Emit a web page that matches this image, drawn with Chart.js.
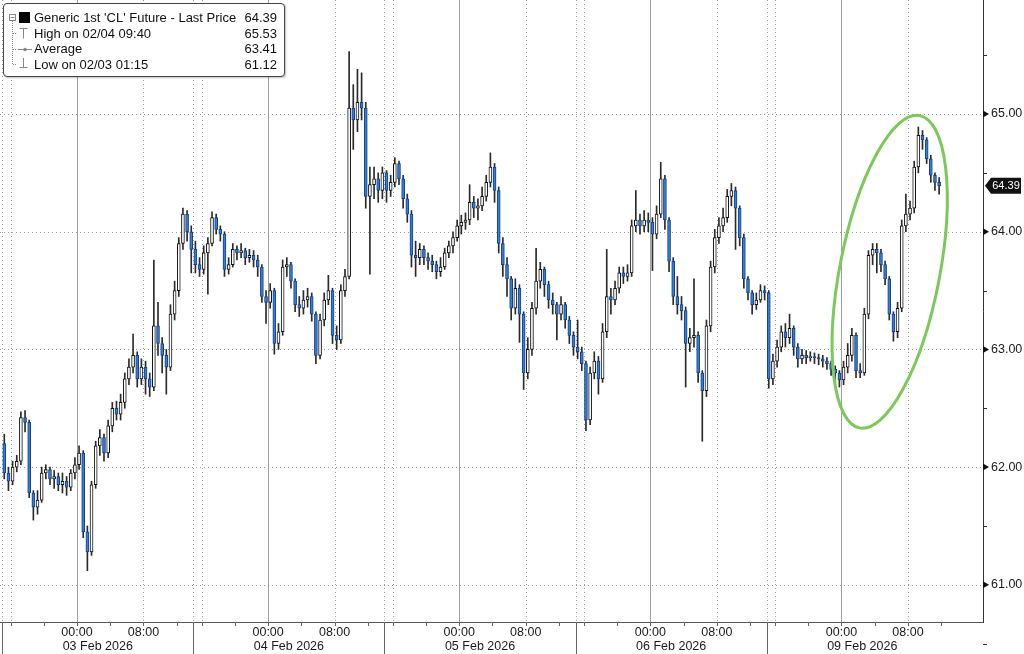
<!DOCTYPE html>
<html>
<head>
<meta charset="utf-8">
<script src="https://cdn.jsdelivr.net/npm/chart.js@4.4.1/dist/chart.umd.min.js"></script>
<style>
html, body { margin: 0; padding: 0; background: #fff; }
#wrap { position: relative; width: 1024px; height: 654px; overflow: hidden; }
#legend {
  position: absolute; left: 3px; top: 3px; width: 282px; height: 74px; box-sizing: border-box;
  border: 1px solid #444; border-radius: 4px; background: #fff;
  font: 13px "Liberation Sans", Arial, sans-serif; color: #111;
  box-shadow: 1px 1px 2px rgba(0,0,0,.25);
}
#legend svg { position: absolute; left: -4px; top: -4px; }
.row { position: absolute; left: 0; right: 0; height: 16px; line-height: 16px; white-space: nowrap; }
.lbl { position: absolute; left: 30px; }
.val { position: absolute; right: 7px; }
</style>
</head>
<body>
<div id="wrap">
  <canvas id="chart" width="1024" height="654"></canvas>
  <div id="legend">
    <svg width="290" height="80">
      <g stroke="#888" fill="none" stroke-width="1">
        <rect x="9.5" y="14.5" width="6" height="6" fill="#fff"/>
        <line x1="10.5" y1="17.5" x2="14.5" y2="17.5"/>
        <line x1="12.5" y1="21" x2="12.5" y2="64.5" stroke-dasharray="1,1"/>
        <line x1="13" y1="33.5" x2="17" y2="33.5" stroke-dasharray="1,1"/>
        <line x1="13" y1="49.5" x2="17" y2="49.5" stroke-dasharray="1,1"/>
        <line x1="13" y1="64.5" x2="17" y2="64.5" stroke-dasharray="1,1"/>
        <line x1="19.5" y1="28.5" x2="27.5" y2="28.5"/>
        <line x1="23.5" y1="28.5" x2="23.5" y2="38.5"/>
        <line x1="18" y1="49.5" x2="32" y2="49.5"/>
        <line x1="23.5" y1="58" x2="23.5" y2="67.5"/>
        <line x1="19.5" y1="67.5" x2="27.5" y2="67.5"/>
      </g>
      <rect x="19" y="12" width="11" height="11" fill="#000"/>
      <circle cx="25" cy="49.5" r="1.8" fill="#888"/>
    </svg>
    <div class="row" style="top:6px"><span class="lbl" id="l0"></span><span class="val" id="v0"></span></div>
    <div class="row" style="top:22px"><span class="lbl" id="l1"></span><span class="val" id="v1"></span></div>
    <div class="row" style="top:37px"><span class="lbl" id="l2"></span><span class="val" id="v2"></span></div>
    <div class="row" style="top:53px"><span class="lbl" id="l3"></span><span class="val" id="v3"></span></div>
  </div>
</div>
<script>
// --- data: 30 minute candles, close / high / low per session ---
const sessionDates = ['03 Feb 2026', '04 Feb 2026', '05 Feb 2026', '06 Feb 2026', '09 Feb 2026'];
const timeTicks = [9, 17];            // hours after the session open (15:00)
const timeLabels = ['00:00', '08:00'];
const yTicks = [61, 62, 63, 64, 65];
const yMinor = [60.5, 61.5, 62.5, 63.5, 64.5, 65.5];

const legendLabels = ["Generic 1st 'CL' Future - Last Price", 'High on 02/04 09:40', 'Average', 'Low on 02/03 01:15'];
const legendValues = ['64.39', '65.53', '63.41', '61.12'];

const firstOpen = 62.20;

const close03 = [61.95,61.88,62.00,62.05,62.42,62.38,61.78,61.66,61.72,61.95,61.98,61.90,61.92,61.85,61.88,61.83,61.95,62.02,62.12,61.45,61.28,61.85,62.18,62.25,62.12,62.35,62.50,62.45,62.55,62.75,62.85,62.95,62.75,62.85,62.75,62.68,63.20,63.05,62.95,62.85,63.30,63.50,63.90,64.15,64.00,63.85];
const high03  = [62.28,62.00,62.05,62.10,62.47,62.48,62.40,61.80,61.80,62.00,62.02,62.00,61.97,61.95,61.95,61.92,61.98,62.08,62.18,62.14,61.50,61.88,62.22,62.32,62.28,62.40,62.55,62.56,62.62,62.80,62.92,63.13,62.98,62.92,62.90,62.80,63.76,63.40,63.10,63.00,63.38,63.58,63.95,64.20,64.18,64.05];
const low03   = [61.90,61.80,61.85,61.96,62.02,62.30,61.74,61.55,61.60,61.70,61.90,61.85,61.82,61.80,61.78,61.76,61.80,61.90,61.98,61.40,61.12,61.25,61.82,62.10,62.05,62.08,62.30,62.40,62.40,62.50,62.70,62.80,62.68,62.70,62.62,62.60,62.65,62.95,62.80,62.62,62.82,63.25,63.45,63.85,63.92,63.65];

const close04 = [63.72,63.68,63.82,63.90,64.12,64.02,63.98,63.68,63.72,63.85,63.82,63.84,63.78,63.80,63.76,63.70,63.45,63.40,63.50,63.05,63.15,63.70,63.72,63.58,63.38,63.35,63.42,63.45,63.30,62.95,63.25,63.42,63.50,63.12,63.08,63.50,63.62,65.05,64.95,65.10,65.05,64.30,64.40,64.45,64.35,64.50];
const high04  = [63.92,63.78,63.88,63.95,64.17,64.15,64.05,64.00,63.78,63.90,63.88,63.90,63.86,63.85,63.84,63.80,63.72,63.50,63.56,63.52,63.22,63.76,63.78,63.74,63.60,63.45,63.50,63.52,63.48,63.32,63.30,63.48,63.63,63.52,63.20,63.55,63.68,65.53,65.25,65.38,65.35,65.10,64.55,64.55,64.50,64.55];
const low04   = [63.65,63.62,63.64,63.47,63.88,63.98,63.92,63.62,63.64,63.70,63.76,63.78,63.72,63.74,63.70,63.62,63.40,63.22,63.35,62.96,63.00,63.12,63.62,63.52,63.32,63.28,63.30,63.36,63.24,62.88,62.92,63.20,63.38,63.05,63.00,63.05,63.45,63.60,64.70,64.85,64.95,64.20,63.64,64.28,64.25,64.28];

const close05 = [64.35,64.42,64.58,64.45,64.28,64.15,63.80,63.78,63.85,63.78,63.75,63.72,63.66,63.70,63.82,63.88,63.95,64.05,64.08,64.10,64.25,64.20,64.22,64.30,64.42,64.55,64.35,63.90,63.72,63.60,63.35,63.52,63.30,62.80,63.00,63.35,63.58,63.68,63.55,63.42,63.38,63.30,63.38,63.25,63.12,63.02];
const high05  = [64.52,64.48,64.63,64.60,64.48,64.32,64.18,63.92,63.90,63.88,63.82,63.80,63.75,63.78,63.86,63.92,64.00,64.10,64.14,64.16,64.40,64.30,64.28,64.38,64.48,64.67,64.58,64.38,63.95,63.78,63.62,63.60,63.55,63.32,63.10,63.40,63.86,63.74,63.70,63.58,63.48,63.40,63.45,63.40,63.28,63.15];
const low05   = [64.25,64.30,64.38,64.40,64.20,64.08,63.70,63.62,63.72,63.72,63.68,63.66,63.60,63.62,63.68,63.78,63.82,63.92,63.98,64.02,64.06,64.12,64.10,64.18,64.26,64.38,64.25,63.82,63.62,63.45,63.25,63.30,63.06,62.66,62.75,62.95,63.30,63.52,63.45,63.35,63.30,63.08,63.25,63.18,63.05,62.95];

const close06 = [62.98,62.88,62.40,62.80,62.90,62.75,63.15,63.45,63.42,63.52,63.65,63.62,63.65,64.05,64.10,64.05,64.10,64.08,63.98,64.15,64.45,64.10,63.75,63.45,63.38,63.33,63.05,63.10,63.12,62.80,62.65,63.20,63.70,63.95,64.05,64.12,64.30,64.35,64.20,63.95,63.60,63.48,63.38,63.42,63.50,63.48];
const high06  = [63.25,63.02,62.90,62.85,62.98,62.94,63.22,63.85,63.52,63.58,63.70,63.70,63.72,64.10,64.35,64.15,64.18,64.16,64.12,64.22,64.59,64.48,64.12,63.78,63.62,63.45,63.36,63.18,63.60,63.15,62.82,63.25,63.75,64.02,64.12,64.20,64.36,64.41,64.38,64.22,63.98,63.62,63.50,63.48,63.55,63.54];
const low06   = [62.92,62.82,62.31,62.36,62.75,62.62,62.72,63.10,63.30,63.38,63.48,63.56,63.58,63.62,64.00,63.98,64.00,64.00,63.67,63.94,64.12,64.02,63.66,63.38,63.30,63.25,62.68,62.98,63.02,62.72,62.22,62.60,63.15,63.65,63.90,64.00,64.08,64.22,63.85,63.88,63.52,63.42,63.30,63.34,63.40,63.42];

const close09 = [62.75,62.90,63.02,63.15,63.10,63.18,63.02,62.92,62.95,62.93,62.94,62.93,62.92,62.90,62.88,62.83,62.80,62.74,62.85,62.95,63.12,62.82,62.80,63.30,63.80,63.85,63.82,63.72,63.60,63.30,63.15,63.35,64.05,64.15,64.20,64.55,64.82,64.78,64.62,64.48,64.42,64.39];
const high09  = [63.50,62.96,63.08,63.20,63.22,63.30,63.20,63.05,63.00,62.99,62.98,62.97,62.96,62.95,62.93,62.90,62.86,62.82,62.90,63.05,63.18,63.14,62.88,63.35,63.84,63.90,63.90,63.85,63.75,63.62,63.32,63.40,64.10,64.32,64.26,64.60,64.89,64.86,64.80,64.65,64.50,64.46];
const low09   = [62.67,62.70,62.85,62.98,63.02,63.05,62.95,62.85,62.88,62.88,62.90,62.88,62.87,62.85,62.83,62.78,62.72,62.68,62.70,62.80,62.90,62.76,62.76,62.78,63.26,63.72,63.65,63.66,63.55,63.25,63.07,63.10,63.32,64.00,64.10,64.16,64.50,64.70,64.58,64.42,64.35,64.32];

const sessions = [
  { close: close03, high: high03, low: low03 },
  { close: close04, high: high04, low: low04 },
  { close: close05, high: high05, low: low05 },
  { close: close06, high: high06, low: low06 },
  { close: close09, high: high09, low: low09 }
];

const SESSION_H = 23;   // CL trades 23h a session
const BAR_H = 0.5;      // 30 minute candles
const UP_FILL = '#ffffff', UP_LINE = '#111111';
const DN_FILL = '#2f80e0', DN_LINE = '#173f80';
const FONT = '"Liberation Sans", Arial, sans-serif';

// --- build candle tables ---
const bodies = [], wicks = [], fills = [], lines = [];
let prev = firstOpen;
sessions.forEach((s, si) => {
  s.close.forEach((c, i) => {
    const xv = si * SESSION_H + i * BAR_H + BAR_H / 2;
    const o = prev;
    bodies.push({ x: xv, y: [o, c] });
    wicks.push({ x: xv, y: [Math.min(s.low[i], o, c), Math.max(s.high[i], o, c)] });
    fills.push(c >= o ? UP_FILL : DN_FILL);
    lines.push(c >= o ? UP_LINE : DN_LINE);
    prev = c;
  });
});
const lastClose = prev;

legendLabels.forEach((t, i) => {
  document.getElementById('l' + i).textContent = t;
  document.getElementById('v' + i).textContent = legendValues[i];
});

function seg(ctx, x1, y1, x2, y2) {
  ctx.beginPath(); ctx.moveTo(x1, y1); ctx.lineTo(x2, y2); ctx.stroke();
}
const px = v => Math.round(v) + 0.5;

// grid, axis furniture, price tag and the green ring
const frame = {
  id: 'frame',
  beforeDatasetsDraw(chart) {
    const { ctx, chartArea: a, scales: { x, y } } = chart;
    ctx.save();
    ctx.lineWidth = 1;
    ctx.strokeStyle = '#9a9a9a';
    ctx.setLineDash([1, 3]);
    yTicks.forEach(v => { const py = px(y.getPixelForValue(v)); seg(ctx, a.left, py, a.right, py); });
    sessionDates.forEach((d, s) => {
      [0, 1, 17].forEach(h => { const xx = px(x.getPixelForValue(s * SESSION_H + h)); seg(ctx, xx, a.top, xx, a.bottom); });
    });
    ctx.setLineDash([]);
    ctx.strokeStyle = '#a0a0a0';
    sessionDates.forEach((d, s) => { const xx = px(x.getPixelForValue(s * SESSION_H + 9)); seg(ctx, xx, a.top, xx, a.bottom); });
    ctx.restore();
  },
  afterDatasetsDraw(chart) {
    const { ctx, scales: { x, y } } = chart;
    // annotation ring around the 09 Feb rally
    const cx = x.getPixelForValue(106.8), cy = y.getPixelForValue(63.66);
    ctx.save();
    ctx.strokeStyle = '#7cc85a';
    ctx.lineWidth = 3;
    ctx.beginPath();
    ctx.ellipse(cx, cy, 50, 159, 0.19, 0, Math.PI * 2);
    ctx.stroke();
    ctx.restore();
  },
  afterDraw(chart) {
    const { ctx, chartArea: a, scales: { x, y } } = chart;
    ctx.save();
    ctx.lineWidth = 1;
    ctx.strokeStyle = '#555';
    seg(ctx, a.left, px(a.bottom), a.right, px(a.bottom));
    ctx.strokeStyle = '#333';
    seg(ctx, px(a.right), a.top, px(a.right), a.bottom + 1);
    // x minor ticks every 4h and session separators
    ctx.strokeStyle = '#666';
    sessionDates.forEach((d, s) => {
      [1, 5, 9, 13, 17, 21].forEach(h => { const xx = px(x.getPixelForValue(s * SESSION_H + h)); seg(ctx, xx, a.bottom, xx, a.bottom + 4); });
      const xb = px(x.getPixelForValue(s * SESSION_H));
      seg(ctx, xb, a.bottom, xb, chart.height);
    });
    // date labels centred on each session
    ctx.fillStyle = '#1a1a1a';
    ctx.font = '12.5px ' + FONT;
    ctx.textAlign = 'center';
    ctx.textBaseline = 'middle';
    sessionDates.forEach((d, s) => ctx.fillText(d, x.getPixelForValue(s * SESSION_H + SESSION_H / 2), a.bottom + 25));
    // y ticks: arrows at majors, short marks at halves
    ctx.fillStyle = '#111';
    yTicks.forEach(v => {
      const py = y.getPixelForValue(v);
      ctx.beginPath(); ctx.moveTo(a.right, py - 3.5); ctx.lineTo(a.right + 6, py); ctx.lineTo(a.right, py + 3.5); ctx.closePath(); ctx.fill();
    });
    ctx.strokeStyle = '#333';
    yMinor.forEach(v => { const py = px(y.getPixelForValue(v)); seg(ctx, a.right, py, a.right + 4, py); });
    // last price tag
    const ty = y.getPixelForValue(lastClose);
    ctx.fillStyle = '#111';
    ctx.beginPath();
    ctx.moveTo(a.right + 2, ty);
    ctx.lineTo(a.right + 8, ty - 8);
    ctx.lineTo(a.right + 38, ty - 8);
    ctx.lineTo(a.right + 38, ty + 8);
    ctx.lineTo(a.right + 8, ty + 8);
    ctx.closePath();
    ctx.fill();
    ctx.fillStyle = '#fff';
    ctx.font = '11px ' + FONT;
    ctx.textAlign = 'center';
    ctx.fillText(lastClose.toFixed(2), a.right + 23, ty + 0.5);
    ctx.restore();
  }
};

const noPad = s => { s.paddingTop = 0; s.paddingBottom = 0; s.paddingLeft = 0; s.paddingRight = 0; };

new Chart(document.getElementById('chart'), {
  type: 'bar',
  data: {
    datasets: [
      { label: 'body', data: bodies, backgroundColor: fills, borderColor: lines, borderWidth: 1,
        borderSkipped: false, barThickness: 3, grouped: false, order: 0 },
      { label: 'wick', data: wicks, backgroundColor: '#2a2a2a', borderWidth: 0,
        barThickness: 1, grouped: false, order: 1 }
    ]
  },
  options: {
    responsive: false,
    animation: false,
    layout: { padding: 0 },
    plugins: { legend: { display: false }, tooltip: { enabled: false } },
    scales: {
      x: {
        type: 'linear', offset: false, min: -0.265, max: 118.03,
        grid: { display: false, drawTicks: false }, border: { display: false },
        afterBuildTicks: s => {
          const t = [];
          sessionDates.forEach((d, si) => timeTicks.forEach(h => t.push({ value: si * SESSION_H + h })));
          s.ticks = t;
        },
        ticks: {
          autoSkip: false, maxRotation: 0, padding: 3, color: '#1a1a1a',
          font: { family: FONT, size: 12.5 },
          callback: v => timeLabels[timeTicks.indexOf(Math.round(v) % SESSION_H)]
        },
        afterFit: s => { s.height = 32; noPad(s); }
      },
      y: {
        position: 'right', min: 60.684, max: 65.969,
        grid: { display: false, drawTicks: false }, border: { display: false },
        afterBuildTicks: s => { s.ticks = yTicks.map(v => ({ value: v })); },
        ticks: {
          padding: 8, color: '#1a1a1a', font: { family: FONT, size: 12.5 },
          callback: v => Number(v).toFixed(2)
        },
        afterFit: s => { s.width = 41; noPad(s); }
      }
    }
  },
  plugins: [frame]
});
</script>
</body>
</html>
